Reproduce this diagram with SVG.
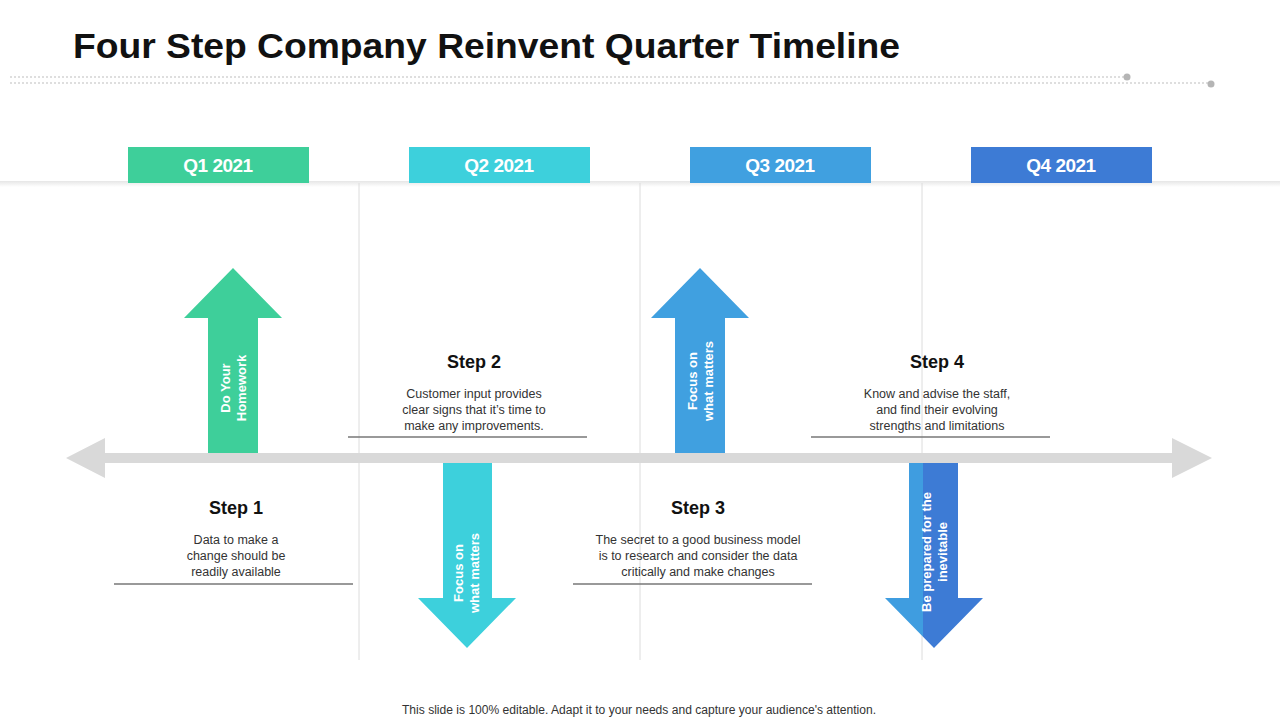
<svg xmlns="http://www.w3.org/2000/svg" width="1280" height="720" viewBox="0 0 1280 720">
<defs>
<linearGradient id="q4" x1="0" x2="1" y1="0" y2="0"><stop offset="0.385" stop-color="#3f9de0"/><stop offset="0.385" stop-color="#3d7bd5"/></linearGradient>
<linearGradient id="band" x1="0" x2="0" y1="0" y2="1"><stop offset="0" stop-color="#e6e6e6"/><stop offset="1" stop-color="#ffffff"/></linearGradient>
</defs>
<style>
.t{font-family:"Liberation Sans",Arial,sans-serif}
.q{font-family:"Liberation Sans",Arial,sans-serif;font-size:19px;font-weight:bold;fill:#fff;text-anchor:middle;letter-spacing:-0.5px}
.s{font-family:"Liberation Sans",Arial,sans-serif;font-size:18px;font-weight:bold;fill:#111;text-anchor:middle}
.d{font-family:"Liberation Sans",Arial,sans-serif;font-size:12.5px;fill:#333;text-anchor:middle}
.a{font-family:"Liberation Sans",Arial,sans-serif;font-size:13px;font-weight:bold;fill:#fff;text-anchor:middle}
.g{stroke:#dcdcdc;stroke-width:1}
.u{stroke:#777;stroke-width:1.5}
</style>
<rect width="1280" height="720" fill="#fff"/>
<text x="73" y="58" class="t" font-size="35" font-weight="bold" fill="#111" textLength="827" lengthAdjust="spacingAndGlyphs">Four Step Company Reinvent Quarter Timeline</text>
<g stroke="#bdbdbd" stroke-dasharray="2,2" stroke-width="1">
<line x1="10" y1="77" x2="1127" y2="77"/><line x1="10" y1="83" x2="1211" y2="83"/>
</g>
<circle cx="1127" cy="77" r="3.5" fill="#b5b5b5"/><circle cx="1211" cy="84" r="3.5" fill="#b5b5b5"/>
<rect x="0" y="181" width="1280" height="6" fill="url(#band)"/>
<g id="connectors">
<line class="g" x1="359" y1="183" x2="359" y2="660"/>
<line class="g" x1="640" y1="183" x2="640" y2="660"/>
<line class="g" x1="922" y1="183" x2="922" y2="660"/>
<polygon points="66,458 105,438 105,453 1172,453 1172,438 1212,458 1172,478 1172,463 105,463 105,478" fill="#d9d9d9"/>
</g>
<g id="q1"><rect x="128" y="147" width="181" height="36" fill="#3ecf9a"/><text x="218" y="172" class="q">Q1 2021</text></g>
<g id="q2"><rect x="409" y="147" width="181" height="36" fill="#3dd0dc"/><text x="499" y="172" class="q">Q2 2021</text></g>
<g id="q3"><rect x="690" y="147" width="181" height="36" fill="#40a0e0"/><text x="780" y="172" class="q">Q3 2021</text></g>
<g id="q4g"><rect x="971" y="147" width="181" height="36" fill="#3d7bd5"/><text x="1061" y="172" class="q">Q4 2021</text></g>
<g id="arrow1"><polygon points="233,268 282,318 258,318 258,453 208,453 208,318 184,318" fill="#3ecf9a"/>
<text class="a" transform="translate(230,388) rotate(-90)"><tspan x="0" y="0">Do Your</tspan><tspan x="0" y="16">Homework</tspan></text></g>
<g id="arrow2"><polygon points="443,463 492,463 492,598 516,598 467,648 418,598 443,598" fill="#3dd0dc"/>
<text class="a" transform="translate(463,573) rotate(-90)"><tspan x="0" y="0">Focus on</tspan><tspan x="0" y="16">what matters</tspan></text></g>
<g id="arrow3"><polygon points="700,268 749,318 725,318 725,453 675,453 675,318 651,318" fill="#40a0e0"/>
<text class="a" transform="translate(697,381) rotate(-90)"><tspan x="0" y="0">Focus on</tspan><tspan x="0" y="16">what matters</tspan></text></g>
<g id="arrow4"><polygon points="909,463 958,463 958,598 983,598 934,648 885,598 909,598" fill="url(#q4)"/>
<text class="a" transform="translate(931,552) rotate(-90)"><tspan x="0" y="0">Be prepared for the</tspan><tspan x="0" y="16">inevitable</tspan></text></g>
<g id="step1"><text x="236" y="514" class="s">Step 1</text>
<text class="d"><tspan x="236" y="544">Data to make a</tspan><tspan x="236" y="560">change should be</tspan><tspan x="236" y="576">readily available</tspan></text>
<line class="u" x1="114" y1="584" x2="353" y2="584"/></g>
<g id="step2"><text x="474" y="368" class="s">Step 2</text>
<text class="d"><tspan x="474" y="398">Customer input provides</tspan><tspan x="474" y="414">clear signs that it’s time to</tspan><tspan x="474" y="430">make any improvements.</tspan></text>
<line class="u" x1="348" y1="437" x2="587" y2="437"/></g>
<g id="step3"><text x="698" y="514" class="s">Step 3</text>
<text class="d"><tspan x="698" y="544">The secret to a good business model</tspan><tspan x="698" y="560">is to research and consider the data</tspan><tspan x="698" y="576">critically and make changes</tspan></text>
<line class="u" x1="573" y1="584" x2="812" y2="584"/></g>
<g id="step4"><text x="937" y="368" class="s">Step 4</text>
<text class="d"><tspan x="937" y="398">Know and advise the staff,</tspan><tspan x="937" y="414">and find their evolving</tspan><tspan x="937" y="430">strengths and limitations</tspan></text>
<line class="u" x1="811" y1="437" x2="1050" y2="437"/></g>
<text x="402" y="714" class="t" font-size="12" fill="#333" textLength="474" lengthAdjust="spacingAndGlyphs">This slide is 100% editable. Adapt it to your needs and capture your audience's attention.</text>
</svg>
